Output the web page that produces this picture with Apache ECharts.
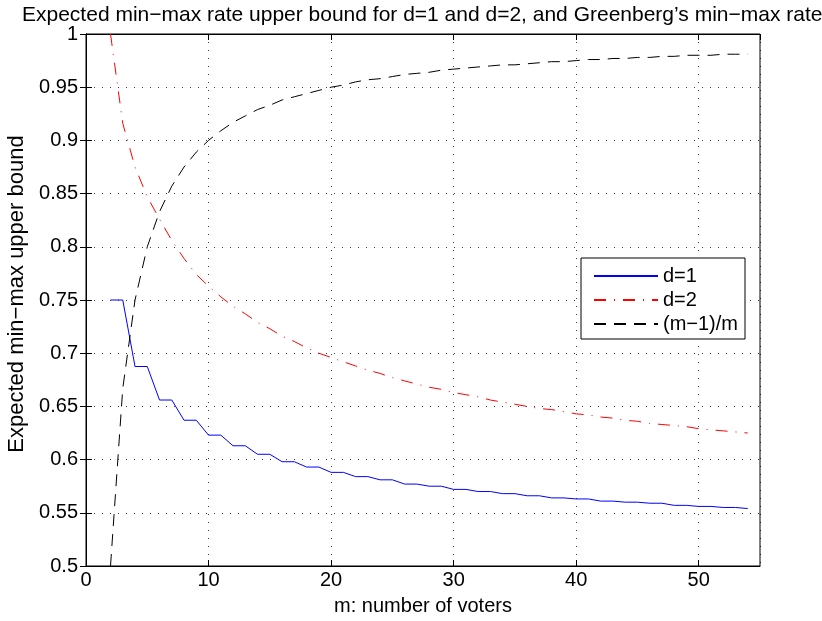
<!DOCTYPE html>
<html>
<head>
  <meta charset="utf-8">
  <title>ECharts</title>
  <script src="https://cdn.jsdelivr.net/npm/echarts@6/dist/echarts.min.js"></script>
  <style>
    html, body { margin: 0; padding: 0; background: #fff; }
  </style>
</head>
<body>
<div id="main" style="width: 822px;height:621px;"></div>
<script type="text/javascript">
  // number of voters m
  var voters = [2, 3, 4, 5, 6, 7, 8, 9, 10, 11, 12, 13, 14, 15, 16, 17, 18, 19, 20, 21,
    22, 23, 24, 25, 26, 27, 28, 29, 30, 31, 32, 33, 34, 35, 36, 37, 38, 39, 40, 41,
    42, 43, 44, 45, 46, 47, 48, 49, 50, 51, 52, 53, 54];

  // d=1 (step curve)
  var d1 = [0.750, 0.750, 0.6875, 0.6875, 0.656, 0.656, 0.637, 0.637, 0.623, 0.623,
    0.613, 0.613, 0.605, 0.605, 0.598, 0.598, 0.593, 0.593, 0.588, 0.588,
    0.584, 0.584, 0.581, 0.581, 0.577, 0.577, 0.575, 0.575, 0.572, 0.572,
    0.570, 0.570, 0.568, 0.568, 0.566, 0.566, 0.564, 0.564, 0.563, 0.563,
    0.561, 0.561, 0.560, 0.560, 0.559, 0.559, 0.557, 0.557, 0.556, 0.556,
    0.555, 0.555, 0.554];

  // d=2
  var d2 = [1.000, 0.916, 0.875, 0.847, 0.826, 0.806, 0.789, 0.774, 0.763, 0.753,
    0.744, 0.737, 0.729, 0.723, 0.716, 0.711, 0.705, 0.700, 0.696, 0.692,
    0.688, 0.684, 0.681, 0.677, 0.674, 0.671, 0.668, 0.666, 0.663, 0.661,
    0.659, 0.656, 0.654, 0.652, 0.650, 0.648, 0.647, 0.645, 0.643, 0.642,
    0.640, 0.639, 0.637, 0.636, 0.634, 0.633, 0.632, 0.631, 0.629, 0.628,
    0.627, 0.626, 0.625];

  // (m-1)/m
  var greenberg = [0.500, 0.667, 0.750, 0.800, 0.833, 0.857, 0.875, 0.889, 0.900, 0.909,
    0.917, 0.923, 0.929, 0.933, 0.938, 0.941, 0.944, 0.947, 0.950, 0.952,
    0.955, 0.957, 0.958, 0.960, 0.962, 0.963, 0.964, 0.966, 0.967, 0.968,
    0.969, 0.970, 0.971, 0.971, 0.972, 0.973, 0.974, 0.974, 0.975, 0.976,
    0.976, 0.977, 0.977, 0.978, 0.978, 0.979, 0.979, 0.980, 0.980, 0.980,
    0.981, 0.981, 0.981];

  var seriesNames = ['d=1', 'd=2', '(m\u22121)/m'];

  function pairs(ys) {
    return voters.map(function (m, i) { return [m, ys[i]]; });
  }

  var chartDom = document.getElementById('main');
  var myChart = echarts.init(chartDom);
  var font = 'Liberation Sans, Arial, Helvetica, sans-serif';

  var gridLine = { show: true, lineStyle: { color: '#000', opacity: 0.75, width: 1, type: [1, 7] } };

  var option = {
    animation: false,
    backgroundColor: '#fff',
    textStyle: { fontFamily: font },
    title: {
      text: 'Expected min\u2212max rate upper bound for d=1 and d=2, and Greenberg\u2019s min\u2212max rate',
      left: 17, top: 0,
      textStyle: { fontFamily: font, fontSize: 21, fontWeight: 'normal', color: '#000' }
    },
    legend: {
      orient: 'vertical',
      left: 581, top: 258,
      padding: [8, 7, 5, 12],
      itemWidth: 64, itemHeight: 14, itemGap: 4,
      backgroundColor: '#fff',
      borderColor: '#000', borderWidth: 1, borderRadius: 0,
      itemStyle: { opacity: 0 },
      textStyle: { fontFamily: font, fontSize: 20, color: '#000' },
      data: seriesNames
    },
    grid: {
      left: 86, right: 62, top: 34, bottom: 55,
      outerBoundsMode: 'none',
      show: true, borderColor: '#000', borderWidth: 1, backgroundColor: '#fff'
    },
    xAxis: [{
      type: 'value', min: 0, max: 55, interval: 10,
      name: 'm: number of voters', nameLocation: 'middle', nameGap: 30,
      nameTextStyle: { fontFamily: font, fontSize: 20, color: '#000' },
      axisLine: { show: true, lineStyle: { color: '#000' } },
      axisTick: { show: true, inside: true, length: 6, lineStyle: { color: '#000' } },
      axisLabel: { showMaxLabel: false, fontFamily: font, fontSize: 20, color: '#000', margin: 4 },
      splitLine: gridLine
    }, {
      type: 'value', min: 0, max: 55, interval: 10, position: 'top',
      axisLine: { show: true, lineStyle: { color: '#000' } },
      axisTick: { show: true, inside: true, length: 6, lineStyle: { color: '#000' } },
      axisLabel: { show: false },
      splitLine: { show: false }
    }],
    yAxis: [{
      type: 'value', min: 0.5, max: 1, interval: 0.05,
      name: 'Expected min\u2212max upper bound', nameLocation: 'middle', nameGap: 56,
      nameTextStyle: { fontFamily: font, fontSize: 22, color: '#000', padding: [0, 0, 0, 12] },
      axisLine: { show: true, lineStyle: { color: '#000' } },
      axisTick: { show: true, inside: true, length: 6, lineStyle: { color: '#000' } },
      axisLabel: {
        fontFamily: font, fontSize: 20, color: '#000', margin: 8,
        formatter: function (v) { return String(+v.toFixed(2)); }
      },
      splitLine: gridLine
    }, {
      type: 'value', min: 0.5, max: 1, interval: 0.05, position: 'right',
      axisLine: { show: true, lineStyle: { color: '#000' } },
      axisTick: { show: true, inside: true, length: 6, lineStyle: { color: '#000' } },
      axisLabel: { show: false },
      splitLine: { show: false }
    }],
    series: [
      {
        name: seriesNames[0], type: 'line', symbol: 'none', data: pairs(d1),
        color: '#0000ff',
        lineStyle: { color: '#0000ff', width: 1 }
      },
      {
        name: seriesNames[1], type: 'line', symbol: 'none', data: pairs(d2),
        color: '#ff0000',
        lineStyle: { color: '#ff0000', width: 1, type: [12, 8, 1, 8] }
      },
      {
        name: seriesNames[2], type: 'line', symbol: 'none', data: pairs(greenberg),
        color: '#000',
        lineStyle: { color: '#000', width: 1, type: [12, 8] }
      }
    ]
  };

  myChart.setOption(option);
</script>
</body>
</html>
